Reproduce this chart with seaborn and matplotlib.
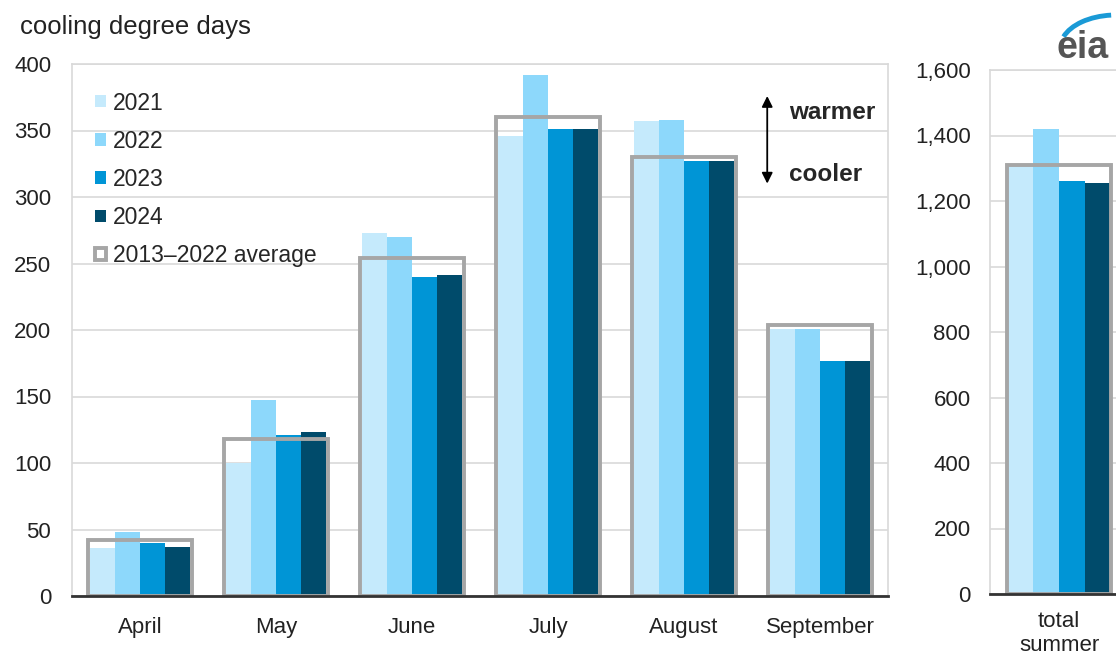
import numpy as np
import pandas as pd
import seaborn as sns
import matplotlib.pyplot as plt
from matplotlib.patches import Arc

# 数据
months = ['April', 'May', 'June', 'July', 'August', 'September']
years = ['2021', '2022', '2023', '2024']
cdd_2021 = [36, 100, 273, 346, 357, 201]
cdd_2022 = [48, 147, 270, 392, 358, 201]
cdd_2023 = [40, 121, 240, 351, 327, 177]
cdd_2024 = [37, 123, 241, 351, 327, 177]
cdd_avg = [42, 118, 254, 360, 330, 204]

total_label = ['total\nsummer']
total_years = [1310, 1420, 1262, 1255]
total_avg = [1310]

colors = ['#c5eafc', '#8dd8fb', '#0095d6', '#004b6b']
avg_color = '#a6a6a6'
grid_color = '#d9d9d9'

df = pd.DataFrame({
    'month': months * 4,
    'year': np.repeat(years, len(months)),
    'cdd': cdd_2021 + cdd_2022 + cdd_2023 + cdd_2024,
})
df_avg = pd.DataFrame({'month': months, 'cdd': cdd_avg})
df_tot = pd.DataFrame({'month': total_label * 4, 'year': years, 'cdd': total_years})
df_tot_avg = pd.DataFrame({'month': total_label, 'cdd': total_avg})

sns.set_style('white')
plt.rcParams['font.family'] = ['Liberation Sans', 'DejaVu Sans']

fig = plt.figure(figsize=(11.16, 6.6), dpi=100)
ax = fig.add_axes([72 / 1116, 64 / 660, 816 / 1116, 532 / 660])
ax2 = fig.add_axes([990 / 1116, 66 / 660, 138 / 1116, 524 / 660])


def style_axis(a, ymax, step, fmt, ypad):
    a.set_ylim(0, ymax)
    a.set_yticks(np.arange(0, ymax + 1, step))
    a.set_yticklabels([fmt.format(v) for v in np.arange(0, ymax + 1, step)])
    a.yaxis.grid(True, color=grid_color, linewidth=1.2)
    a.set_axisbelow(True)
    for s in ['top', 'left', 'right']:
        a.spines[s].set_color(grid_color)
        a.spines[s].set_linewidth(1.2)
    a.spines['bottom'].set_color('#333333')
    a.spines['bottom'].set_linewidth(2)
    a.tick_params(axis='both', length=0, labelsize=16, colors='#222222')
    a.tick_params(axis='y', pad=ypad)
    a.set_xlabel('')
    a.set_ylabel('')


# 左侧月度图
sns.barplot(data=df, x='month', y='cdd', hue='year', palette=colors, width=0.74,
            saturation=1, ax=ax, errorbar=None, linewidth=0)
sns.barplot(data=df_avg, x='month', y='cdd', width=0.76, fill=False, color=avg_color,
            linewidth=2.8, ax=ax, errorbar=None, label='2013\u20132022 average')
style_axis(ax, 400, 50, '{:.0f}', 15)
ax.set_xlim(-0.5, 5.5)
ax.tick_params(axis='x', pad=15)

h, l = ax.get_legend_handles_labels()
ax.legend(h, l, loc='upper left', bbox_to_anchor=(-0.005, 1.0), frameon=False, fontsize=16.5,
          handlelength=0.45, handleheight=0.45, handletextpad=0.3, labelspacing=0.66,
          borderaxespad=0.6, borderpad=0.6)

# 注释
ax.annotate('', xy=(0.852, 0.945), xytext=(0.852, 0.77), xycoords='axes fraction',
            arrowprops=dict(arrowstyle='<|-|>', color='black', lw=1.3, mutation_scale=16))
ax.text(0.879, 0.908, 'warmer', transform=ax.transAxes, fontsize=17.5, fontweight='bold',
        va='center', ha='left')
ax.text(0.879, 0.793, 'cooler', transform=ax.transAxes, fontsize=17.5, fontweight='bold',
        va='center', ha='left')

# 右侧总量图
sns.barplot(data=df_tot, x='month', y='cdd', hue='year', palette=colors, width=0.74,
            saturation=1, ax=ax2, errorbar=None, linewidth=0, legend=False)
sns.barplot(data=df_tot_avg, x='month', y='cdd', width=0.76, fill=False, color=avg_color,
            linewidth=2.8, ax=ax2, errorbar=None)
style_axis(ax2, 1600, 200, '{:,.0f}', 14)
ax2.set_xlim(-0.5, 0.5)
ax2.tick_params(axis='x', pad=12)
for t in ax2.get_xticklabels():
    t.set_linespacing(1.2)

fig.text(20 / 1116, 1 - 27 / 660, 'cooling degree days', fontsize=18.5, va='center',
         ha='left', color='#222222')

# eia 标志
fig.text(1057 / 1116, 1 - 48 / 660, 'eia', fontsize=27, fontweight='bold', color='#555555',
         va='center', ha='left')
logo = Arc((1116 / 1116, 1 - 48 / 660), 0.1, 0.1, theta1=95, theta2=160,
           transform=fig.transFigure, color='#1a9ad6', lw=3.5)
fig.add_artist(logo)

fig.savefig('out.png', dpi=100)
